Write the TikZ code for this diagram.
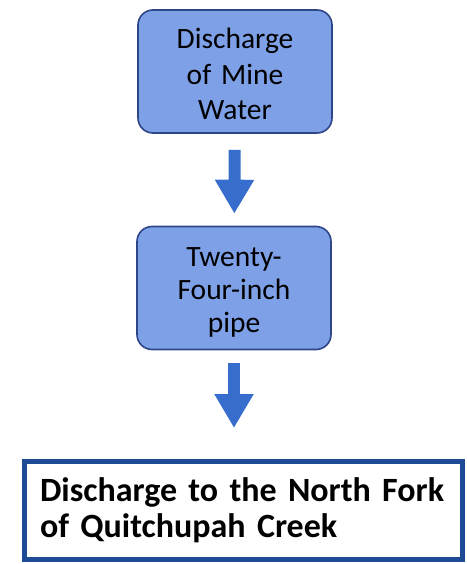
\documentclass[tikz,border=0pt]{standalone}
\usepackage{fontspec}
\setmainfont{Carlito}[WordSpace=0.75]
\usetikzlibrary{arrows.meta,positioning}

\definecolor{stepfill}{RGB}{125,160,230}
\definecolor{stepline}{RGB}{45,70,135}
\definecolor{flowblue}{RGB}{55,110,205}
\definecolor{endline}{RGB}{30,75,150}

\tikzset{
  stepbox/.style={rectangle,rounded corners=15pt,draw=stepline,line width=1.6pt,fill=stepfill,
    minimum width=194pt,minimum height=123pt,align=center,text width=180pt,
    text height=25pt,text depth=70pt,
    font=\fontsize{29.5}{35.5}\selectfont},
  endbox/.style={rectangle,draw=endline,line width=5pt,fill=white,
    minimum width=437pt,minimum height=98pt,align=left,text width=407pt,inner xsep=15.5pt,
    font=\fontsize{34}{36}\selectfont\bfseries},
  flow/.style={draw=flowblue,line width=12pt,-{Triangle[width=37pt,length=34pt]}}
}

\begin{document}
\begin{tikzpicture}[x=1pt,y=-1pt]
  \useasboundingbox (0,0) rectangle (466,564);

  % process steps
  \node[stepbox] (mine) at (235,71.5) {Discharge\\of Mine\\Water};
  \node[stepbox,text depth=69pt,font=\fontsize{29.5}{33}\selectfont] (pipe) at (234,288) {Twenty-\\Four-inch\\pipe};
  \node[endbox] (creek) at (243.5,510.5) {Discharge to the North Fork\\of Quitchupah Creek};

  % flow arrows
  \draw[flow,shorten <=16pt,shorten >=12pt] (mine) -- (pipe);
  \draw[flow,shorten <=13pt,shorten >=31pt] (pipe) -- (pipe|-creek.north);
\end{tikzpicture}
\end{document}
